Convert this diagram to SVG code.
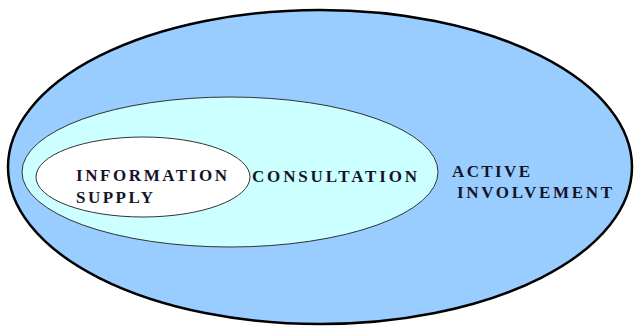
<svg xmlns="http://www.w3.org/2000/svg" width="634" height="326" viewBox="0 0 634 326">
<style>
.lbl{font-family:"Liberation Serif","Times New Roman",serif;font-weight:bold;font-size:17px;fill:#141428;}
</style>
<rect width="634" height="326" fill="#ffffff"/>
<g id="active">
<ellipse cx="320" cy="167" rx="312" ry="157" fill="#99ccff" stroke="#000" stroke-width="2.5"/>
<text class="lbl" x="452" y="177" textLength="78" lengthAdjust="spacing">ACTIVE</text>
<text class="lbl" x="457" y="198" textLength="155" lengthAdjust="spacing">INVOLVEMENT</text>
</g>
<g id="consultation">
<ellipse cx="230" cy="172" rx="208" ry="75" fill="#ccffff" stroke="#333" stroke-width="1"/>
<text class="lbl" x="252" y="182" textLength="165" lengthAdjust="spacing">CONSULTATION</text>
</g>
<g id="information">
<ellipse cx="143" cy="177" rx="107" ry="40" fill="#ffffff" stroke="#333" stroke-width="1"/>
<text class="lbl" x="76" y="181" textLength="151" lengthAdjust="spacing">INFORMATION</text>
<text class="lbl" x="76" y="203" textLength="77" lengthAdjust="spacing">SUPPLY</text>
</g>
<g id="connectors"/>
</svg>
